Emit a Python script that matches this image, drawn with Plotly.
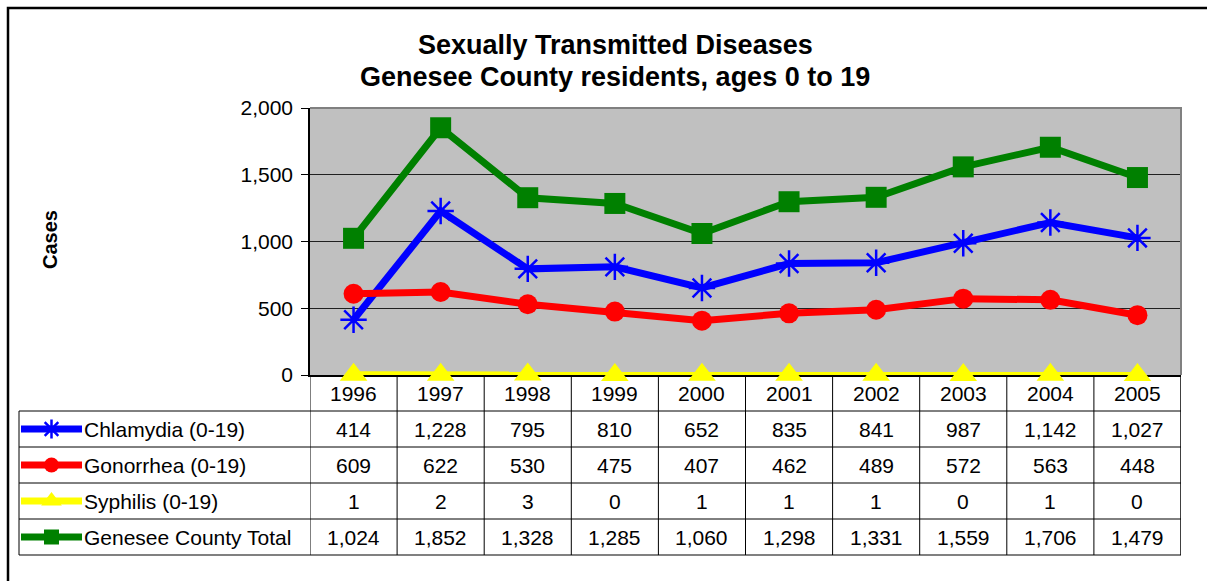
import plotly.graph_objects as go

W, H = 1207, 581

years = ["1996", "1997", "1998", "1999", "2000", "2001", "2002", "2003", "2004", "2005"]
chlamydia = [414, 1228, 795, 810, 652, 835, 841, 987, 1142, 1027]
gonorrhea = [609, 622, 530, 475, 407, 462, 489, 572, 563, 448]
syphilis = [1, 2, 3, 0, 1, 1, 1, 0, 1, 0]
total = [1024, 1852, 1328, 1285, 1060, 1298, 1331, 1559, 1706, 1479]

series_names = ["Chlamydia (0-19)", "Gonorrhea (0-19)", "Syphilis (0-19)", "Genesee County Total"]
series_values = [chlamydia, gonorrhea, syphilis, total]
series_colors = ["#0000FF", "#FF0000", "#FFFF00", "#008000"]
series_symbols = ["asterisk-open", "circle", "triangle-up", "square"]
marker_sizes = [22, 20, 24, 21]
key_marker_sizes = [16, 15, 18, 15]

y_ticks = [0, 500, 1000, 1500, 2000]

title_lines = ["Sexually Transmitted Diseases", "Genesee County residents, ages 0 to 19"]
y_title = "Cases"

FONT = "Arial, Liberation Sans, sans-serif"
FS = 21


def px(x):
    return x / W


def py(y):
    return 1 - y / H


# layout geometry (pixels)
PL, PR, PT, PB = 310, 1181, 108, 375
TABLE_L = 19
ROW_LINES = [411, 447, 483, 519, 555]
HEADER_C = 393
ROW_C = [429, 465, 501, 537]

fig = go.Figure()

for name, vals, col, sym, ms in zip(series_names, series_values, series_colors, series_symbols, marker_sizes):
    marker = dict(symbol=sym, size=ms, color=col)
    if sym == "asterisk-open":
        marker["line"] = dict(color=col, width=2.5)
    fig.add_trace(go.Scatter(
        x=years, y=vals, mode="lines+markers", name=name,
        line=dict(color=col, width=7), marker=marker,
        cliponaxis=False, showlegend=False, xaxis="x", yaxis="y",
    ))

# legend keys in the data table (hidden helper axes)
for i, (name, col, sym, ms) in enumerate(zip(series_names, series_colors, series_symbols, key_marker_sizes)):
    yv = 3.5 - i
    fig.add_trace(go.Scatter(
        x=[0, 1], y=[yv, yv], mode="lines", line=dict(color=col, width=7),
        showlegend=False, xaxis="x2", yaxis="y2", hoverinfo="skip", cliponaxis=False,
    ))
    marker = dict(symbol=sym, size=ms, color=col)
    if sym == "asterisk-open":
        marker["line"] = dict(color=col, width=2.5)
    fig.add_trace(go.Scatter(
        x=[0.5], y=[yv], mode="markers", marker=marker,
        showlegend=False, xaxis="x2", yaxis="y2", hoverinfo="skip", cliponaxis=False,
    ))

shapes = []
# plot area background
shapes.append(dict(type="rect", xref="paper", yref="paper",
                   x0=px(PL), x1=px(PR), y0=py(PB), y1=py(PT),
                   fillcolor="#C0C0C0", line=dict(width=0), layer="below"))
# outer chart border
shapes.append(dict(type="rect", xref="paper", yref="paper",
                   x0=px(8), x1=px(W + 20), y0=py(8), y1=py(H + 20),
                   line=dict(color="black", width=2.5), layer="below"))
# plot area top/right border (gray)
shapes.append(dict(type="path", xref="paper", yref="paper",
                   path=f"M {px(PL)},{py(PT)} L {px(PR)},{py(PT)} L {px(PR)},{py(PB)}",
                   line=dict(color="#808080", width=2), layer="above"))
# table horizontal lines
for i, yl in enumerate(ROW_LINES):
    last = i == len(ROW_LINES) - 1
    shapes.append(dict(type="line", xref="paper", yref="paper",
                       x0=px(TABLE_L), x1=px(PR), y0=py(yl), y1=py(yl),
                       line=dict(color="#808080" if last else "black", width=2 if last else 1),
                       layer="below"))
# table left line
shapes.append(dict(type="line", xref="paper", yref="paper",
                   x0=px(TABLE_L), x1=px(TABLE_L), y0=py(ROW_LINES[0]), y1=py(ROW_LINES[-1]),
                   line=dict(color="black", width=1), layer="below"))
# table vertical lines at category boundaries
for k in range(len(years) + 1):
    shapes.append(dict(type="line", xref="x", yref="paper",
                       x0=k - 0.5, x1=k - 0.5, y0=py(PB), y1=py(ROW_LINES[-1]),
                       line=dict(color="black", width=1.5 if k == len(years) else 1),
                       layer="below"))

annotations = []
# header years
for j, yr in enumerate(years):
    annotations.append(dict(x=j, xref="x", y=py(HEADER_C), yref="paper",
                            text=yr, showarrow=False, xanchor="center", yanchor="middle",
                            font=dict(family=FONT, size=FS, color="black")))
# values
for r, vals in enumerate(series_values):
    for j, v in enumerate(vals):
        annotations.append(dict(x=j, xref="x", y=py(ROW_C[r]), yref="paper",
                                text=f"{v:,}", showarrow=False, xanchor="center", yanchor="middle",
                                font=dict(family=FONT, size=FS, color="black")))
    annotations.append(dict(x=px(82), xref="paper", y=py(ROW_C[r]), yref="paper",
                            text=series_names[r], showarrow=False, xanchor="left", yanchor="middle",
                            font=dict(family=FONT, size=FS, color="black")))
# y axis title
annotations.append(dict(x=px(50), xref="paper", y=py(240), yref="paper",
                        text=f"<b>{y_title}</b>", textangle=-90, showarrow=False,
                        xanchor="center", yanchor="middle",
                        font=dict(family=FONT, size=20, color="black")))
# chart title lines
for line_text, yc in zip(title_lines, [45, 77]):
    annotations.append(dict(x=px(615), xref="paper", y=py(yc), yref="paper",
                            text=f"<b>{line_text}</b>", showarrow=False,
                            xanchor="center", yanchor="middle",
                            font=dict(family=FONT, size=27, color="black")))

fig.update_layout(
    template="none",
    width=W, height=H,
    margin=dict(l=0, r=0, t=0, b=0, pad=0, autoexpand=False),
    paper_bgcolor="white", plot_bgcolor="rgba(0,0,0,0)",
    xaxis=dict(domain=[px(PL), px(PR)], type="category", range=[-0.5, len(years) - 0.5],
               showticklabels=False, showgrid=False, zeroline=False, automargin=False,
               showline=True, linecolor="black", linewidth=1.5, ticks="", fixedrange=True,
               layer="below traces"),
    yaxis=dict(domain=[py(PB), py(PT)], range=[0, 2000], tickvals=y_ticks,
               tickformat=",", ticks="outside", ticklen=7, tickcolor="black", tickwidth=1,
               ticklabelstandoff=4,
               showgrid=True, gridcolor="#202020", gridwidth=1, zeroline=False, automargin=False,
               showline=True, linecolor="black", linewidth=1.5,
               tickfont=dict(family=FONT, size=FS, color="black"), fixedrange=True),
    xaxis2=dict(domain=[px(21), px(82)], range=[0, 1], visible=False, anchor="y2", fixedrange=True),
    yaxis2=dict(domain=[py(ROW_LINES[-1]), py(ROW_LINES[0])], range=[0, 4], visible=False,
                anchor="x2", fixedrange=True),
    shapes=shapes, annotations=annotations,
    showlegend=False,
)

fig.write_html("out.html", config={"displayModeBar": False},
               post_script="document.body.style.margin='0px';")
